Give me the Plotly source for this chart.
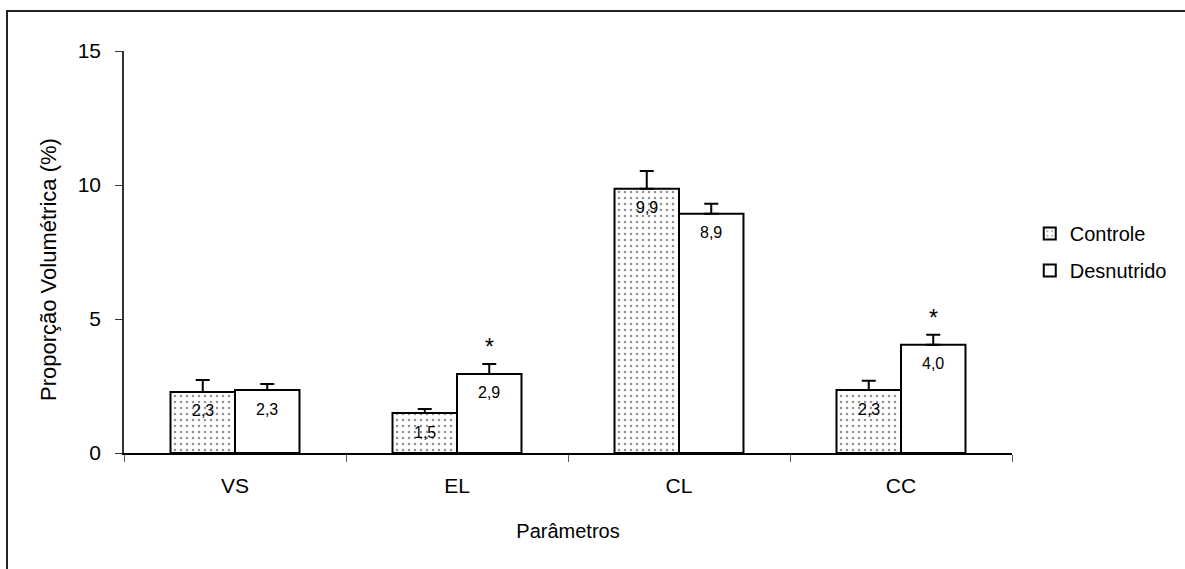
import plotly.graph_objects as go

categories = ["VS", "EL", "CL", "CC"]
controle = [2.28, 1.49, 9.86, 2.35]
controle_err = [0.44, 0.15, 0.66, 0.35]
desnutrido = [2.35, 2.95, 8.93, 4.04]
desnutrido_err = [0.22, 0.37, 0.37, 0.37]
controle_labels = ["2,3", "1,5", "9,9", "2,3"]
desnutrido_labels = ["2,3", "2,9", "8,9", "4,0"]
significant = [False, True, False, True]

FONT = "Liberation Sans, Arial, sans-serif"

fig = go.Figure()
fig.add_trace(go.Bar(
    name="Controle", x=categories, y=controle, legendgroup="a",
    marker=dict(color="white", line=dict(color="black", width=2),
                pattern=dict(shape=".", fgcolor="#222", bgcolor="white", size=6, solidity=0.14)),
    error_y=dict(type="data", array=controle_err, arrayminus=[0]*4, symmetric=False,
                 color="black", thickness=2, width=7),
))
fig.add_trace(go.Bar(
    name="Desnutrido", x=categories, y=desnutrido, legendgroup="b",
    marker=dict(color="white", line=dict(color="black", width=2)),
    error_y=dict(type="data", array=desnutrido_err, arrayminus=[0]*4, symmetric=False,
                 color="black", thickness=2, width=7),
))

L, R, T, B = 124, 173, 51, 116
W, H = 1185, 569
pw, ph = W - L - R, H - T - B

ann = []
for i, c in enumerate(categories):
    ann.append(dict(x=c, y=controle[i], xref="x", yref="y", text=controle_labels[i],
                    showarrow=False, xshift=-32, yshift=-19, yanchor="middle",
                    font=dict(family=FONT, size=16, color="black")))
    ann.append(dict(x=c, y=desnutrido[i], xref="x", yref="y", text=desnutrido_labels[i],
                    showarrow=False, xshift=32, yshift=-19, yanchor="middle",
                    font=dict(family=FONT, size=16, color="black")))
    if significant[i]:
        ann.append(dict(x=c, y=desnutrido[i] + desnutrido_err[i], xref="x", yref="y", text="*",
                        showarrow=False, xshift=32, yshift=2, yanchor="bottom",
                        font=dict(family=FONT, size=23, color="black")))
ann.append(dict(x=(48 - L) / pw, y=(453 - 270) / ph, xref="paper", yref="paper",
                text="Proporção Volumétrica (%)", textangle=-90, showarrow=False,
                xanchor="center", yanchor="middle",
                font=dict(family=FONT, size=22, color="black")))

shapes = [dict(type="path", xref="paper", yref="paper",
               path=f"M {(7-L)/pw} {(-B-10)/ph} L {(7-L)/pw} {1+(T-11)/ph} L {(W+10-L)/pw} {1+(T-11)/ph}",
               line=dict(color="#222", width=2))]

fig.update_layout(
    width=W, height=H,
    margin=dict(l=L, r=R, t=T, b=B),
    paper_bgcolor="white", plot_bgcolor="white",
    font=dict(family=FONT, size=21, color="black"),
    barmode="group", bargap=0.419, bargroupgap=0,
    showlegend=True,
    legend=dict(x=1.02, y=0.5, xanchor="left", yanchor="middle",
                font=dict(size=20), tracegroupgap=8, traceorder="grouped",
                bgcolor="rgba(0,0,0,0)"),
    annotations=ann,
    shapes=shapes,
    xaxis=dict(title=dict(text="Parâmetros", standoff=28, font=dict(size=20)),
               showline=True, linecolor="black", linewidth=1.5,
               ticks="outside", ticklen=7, tickcolor="#555", tickson="boundaries",
               ticklabelstandoff=13, showgrid=False, zeroline=False),
    yaxis=dict(range=[0, 15],
               tickvals=[0, 5, 10, 15], showline=True, linecolor="#333", linewidth=1.5,
               ticks="outside", ticklen=7, tickcolor="#333", ticklabelstandoff=10,
               showgrid=False, zeroline=False),
)

fig.write_html("out.html")
